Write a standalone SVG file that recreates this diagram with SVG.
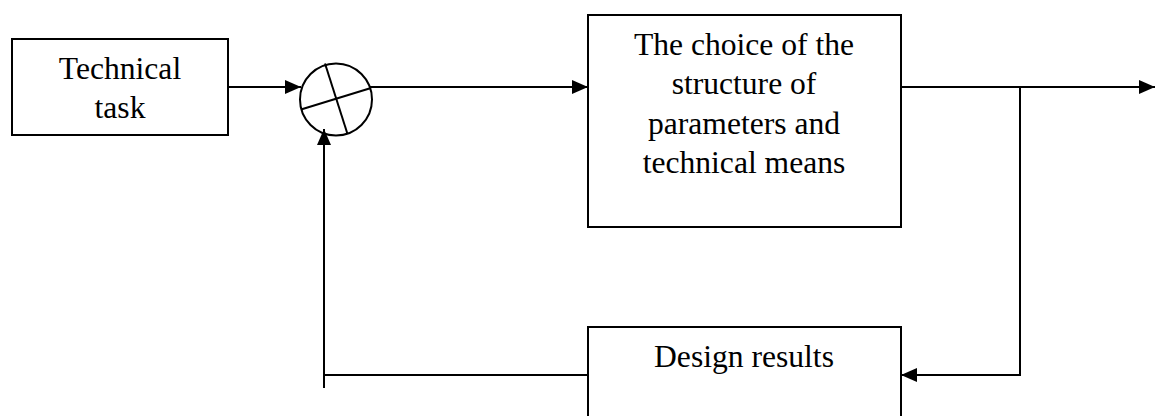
<svg xmlns="http://www.w3.org/2000/svg" width="1155" height="416" viewBox="0 0 1155 416">
<style>
.box{fill:#fff;stroke:#000;stroke-width:2}
.ln{fill:none;stroke:#000;stroke-width:2}
.t{font-family:"Liberation Serif","Times New Roman",serif;font-size:31.6px;fill:#000;text-anchor:middle}
</style>
<defs>
<marker id="ah" markerWidth="16" markerHeight="14" refX="16" refY="7" orient="auto" markerUnits="userSpaceOnUse">
<path d="M0,0 L16,7 L0,14 Z" fill="#000"/>
</marker>
</defs>
<rect width="1155" height="416" fill="#fff"/>
<g id="connectors">
<line class="ln" x1="228" y1="87" x2="301" y2="87" marker-end="url(#ah)"/>
<line class="ln" x1="370" y1="87" x2="588" y2="87" marker-end="url(#ah)"/>
<line class="ln" x1="901" y1="87" x2="1155" y2="87" marker-end="url(#ah)"/>
<polyline class="ln" points="1020,87 1020,375 901,375" marker-end="url(#ah)"/>
<line class="ln" x1="588" y1="375" x2="324" y2="375"/>
<line class="ln" x1="324" y1="388" x2="324" y2="129" marker-end="url(#ah)"/>
</g>
<g id="technical-task">
<rect class="box" x="12" y="39" width="216" height="96"/>
<text class="t" x="120" y="79">Technical</text>
<text class="t" x="120" y="118">task</text>
</g>
<g id="summator">
<circle class="ln" cx="336" cy="99.5" r="36"/>
<line class="ln" x1="325" y1="63.5" x2="347.5" y2="134"/>
<line class="ln" x1="301" y1="109.5" x2="371" y2="88"/>
</g>
<g id="choice">
<rect class="box" x="588" y="15" width="313" height="212"/>
<text class="t" x="744" y="54.5">The choice of the</text>
<text class="t" x="744" y="94">structure of</text>
<text class="t" x="744" y="133.5">parameters and</text>
<text class="t" x="744" y="173">technical means</text>
</g>
<g id="design-results">
<rect class="box" x="588" y="327" width="313" height="110"/>
<text class="t" x="744" y="367">Design results</text>
</g>
</svg>
